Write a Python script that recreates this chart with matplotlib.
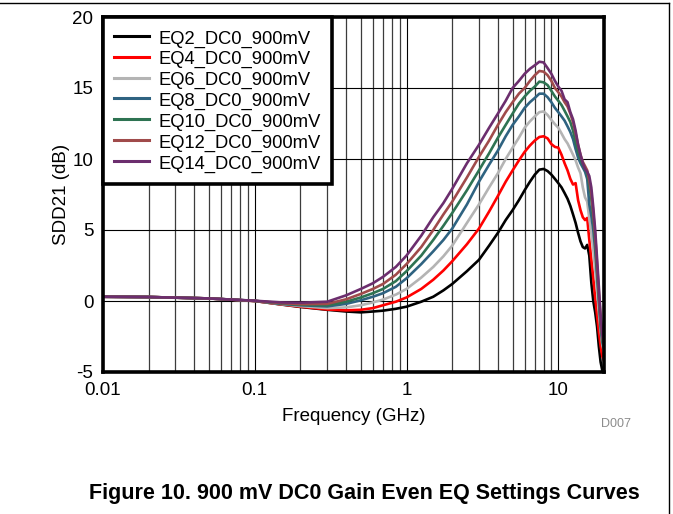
import matplotlib
matplotlib.use("Agg")
import matplotlib.pyplot as plt
from matplotlib.lines import Line2D
from matplotlib.ticker import FixedLocator, NullFormatter

freq_ghz = [0.01, 0.02, 0.05, 0.1, 0.15, 0.2,
            0.3, 0.4, 0.5, 0.6, 0.7, 0.85,
            1.0, 1.25, 1.5, 1.75, 2.0,
            2.5, 3.0, 3.5, 4.0, 4.5,
            5.0, 5.5, 6.0, 6.5, 7.0,
            7.5, 8.0, 8.5, 9.0, 9.5,
            10.0, 10.5, 11.0, 11.5, 12.0,
            12.5, 13.0, 13.5, 14.0, 14.5,
            15.0, 15.5, 16.0, 16.5, 17.0,
            17.5, 18.0, 18.5, 19.0, 19.5, 20.0]

eq2 = [0.30, 0.28, 0.18, 0.00, -0.25, -0.42,
       -0.62, -0.74, -0.80, -0.74, -0.68, -0.55,
       -0.40, -0.05, 0.30, 0.75, 1.20,
       2.10, 2.90, 3.90, 4.80, 5.70,
       6.40, 7.10, 7.80, 8.40, 8.90,
       9.25, 9.30, 9.15, 8.90, 8.60,
       8.30, 8.00, 7.60, 7.20, 6.70,
       6.10, 5.50, 4.80, 4.20, 3.80,
       3.70, 3.95, 3.20, 1.30, 0.00,
       -0.80, -1.80, -3.20, -4.30, -4.90, -5.00]

eq4 = [0.30, 0.28, 0.18, 0.00, -0.24, -0.40,
       -0.60, -0.66, -0.62, -0.50, -0.30, -0.05,
       0.25, 0.85, 1.50, 2.15, 2.80,
       4.00, 5.10, 6.30, 7.40, 8.40,
       9.20, 9.90, 10.50, 10.95, 11.30,
       11.55, 11.60, 11.45, 11.05, 10.85,
       10.80, 10.30, 9.70, 9.20, 8.60,
       8.20, 8.30, 7.10, 6.40, 5.90,
       5.70, 5.85, 4.30, 2.90, 1.60,
       0.20, -1.00, -2.20, -3.20, -3.90, -4.20]

eq6 = [0.30, 0.28, 0.18, 0.01, -0.22, -0.36,
       -0.50, -0.45, -0.30, -0.10, 0.10, 0.45,
       0.85, 1.65, 2.40, 3.15, 3.90,
       5.50, 6.80, 8.00, 9.00, 10.00,
       10.80, 11.50, 12.20, 12.65, 13.00,
       13.30, 13.35, 13.10, 12.75, 12.45,
       12.20, 11.80, 11.40, 11.10, 10.70,
       10.30, 9.90, 9.40, 9.00, 8.00,
       7.30, 7.00, 5.80, 4.80, 3.60,
       2.20, 0.80, -0.80, -2.10, -3.10, -3.60]

eq8 = [0.30, 0.28, 0.18, 0.01, -0.20, -0.30,
       -0.38, -0.20, 0.05, 0.30, 0.55, 1.00,
       1.60, 2.60, 3.50, 4.30, 5.10,
       6.80, 8.40, 9.60, 10.60, 11.60,
       12.40, 13.00, 13.60, 14.00, 14.30,
       14.60, 14.60, 14.35, 14.00, 13.60,
       13.30, 13.00, 12.70, 12.30, 11.90,
       11.40, 10.70, 10.10, 9.70, 9.40,
       9.10, 8.60, 6.80, 6.00, 5.00,
       3.60, 1.80, 0.00, -1.80, -2.90, -3.40]

eq10 = [0.30, 0.28, 0.18, 0.01, -0.18, -0.26,
        -0.30, -0.05, 0.25, 0.55, 0.85, 1.40,
        2.10, 3.20, 4.30, 5.30, 6.20,
        7.80, 9.20, 10.40, 11.50, 12.40,
        13.20, 13.90, 14.40, 14.80, 15.10,
        15.45, 15.40, 15.20, 14.80, 14.40,
        14.10, 13.80, 13.40, 13.00, 12.60,
        12.00, 11.20, 10.50, 10.00, 9.60,
        9.30, 9.00, 8.20, 7.20, 5.80,
        4.20, 2.20, 0.30, -1.60, -2.70, -3.30]

eq12 = [0.30, 0.28, 0.18, 0.01, -0.15, -0.22,
        -0.20, 0.12, 0.50, 0.85, 1.20, 1.85,
        2.60, 3.80, 5.00, 6.10, 7.00,
        8.70, 10.15, 11.30, 12.40, 13.30,
        14.00, 14.60, 15.00, 15.50, 15.90,
        16.20, 16.15, 15.90, 15.50, 15.00,
        14.70, 14.40, 14.00, 13.70, 13.20,
        12.60, 11.80, 11.00, 10.30, 9.80,
        9.50, 9.20, 8.50, 7.60, 6.20,
        4.60, 2.60, 0.60, -1.30, -2.50, -3.10]

eq14 = [0.30, 0.28, 0.18, 0.02, -0.10, -0.12,
        -0.05, 0.40, 0.85, 1.25, 1.70, 2.40,
        3.20, 4.60, 5.90, 6.90, 7.90,
        9.70, 11.00, 12.20, 13.20, 14.10,
        15.00, 15.50, 16.00, 16.35, 16.60,
        16.85, 16.80, 16.40, 16.00, 15.50,
        15.10, 14.80, 14.20, 14.00, 13.30,
        12.80, 12.00, 11.00, 10.30, 9.70,
        9.30, 9.10, 8.80, 8.00, 6.60,
        5.00, 3.00, 1.00, -1.00, -2.40, -2.90]

series_names = ["EQ2_DC0_900mV", "EQ4_DC0_900mV", "EQ6_DC0_900mV", "EQ8_DC0_900mV",
                "EQ10_DC0_900mV", "EQ12_DC0_900mV", "EQ14_DC0_900mV"]
series_values = [eq2, eq4, eq6, eq8, eq10, eq12, eq14]
series_colors = ["#000000", "#FF0000", "#B4B4B4", "#2F6381", "#2E7352", "#A04B4B", "#6C2E6E"]

x_ticks = [0.01, 0.1, 1, 10]
x_tick_labels = ["0.01", "0.1", "1", "10"]
y_ticks = [-5, 0, 5, 10, 15, 20]
y_tick_labels = ["-5", "0", "5", "10", "15", "20"]

plt.rcParams['font.family'] = ['Liberation Sans', 'DejaVu Sans']

fig = plt.figure(figsize=(6.73, 5.14), dpi=100)
ax = fig.add_axes([103/673, 1 - 372/514, (604 - 103)/673, (372 - 17)/514])

for name, vals, col in zip(series_names, series_values, series_colors):
    ax.plot(freq_ghz, vals, color=col, lw=1.9, label=name, solid_joinstyle='round')

ax.set_xscale('log')
ax.set_xlim(0.01, 20)
ax.set_ylim(-5, 20)
ax.xaxis.set_major_locator(FixedLocator(x_ticks))
ax.set_xticklabels(x_tick_labels)
minor = [m * d for d in [0.01, 0.1, 1, 10] for m in range(2, 10) if m * d < 20]
ax.xaxis.set_minor_locator(FixedLocator(minor))
ax.xaxis.set_minor_formatter(NullFormatter())
ax.set_yticks(y_ticks)
ax.set_yticklabels(y_tick_labels)

ax.grid(True, which='major', axis='both', color='#000000', lw=0.8)
ax.grid(True, which='minor', axis='x', color='#3c3c3c', lw=0.9)
ax.set_axisbelow(True)

ax.tick_params(axis='both', which='both', length=0, labelsize=13.5, pad=7)
for s in ax.spines.values():
    s.set_linewidth(2.6)
    s.set_color('black')

ax.set_xlabel("Frequency (GHz)", fontsize=13.5, labelpad=7)
ax.set_ylabel("SDD21 (dB)", fontsize=13.5, labelpad=2)

leg = ax.legend(loc='upper left', bbox_to_anchor=(0, 1), borderaxespad=0,
                fontsize=13.2, frameon=True, fancybox=False, handlelength=1.9,
                handleheight=1.1, handletextpad=0.5, labelspacing=0.09, borderpad=0.62)
leg.get_frame().set_edgecolor('black')
leg.get_frame().set_linewidth(2.6)
leg.get_frame().set_alpha(1)
for l in leg.get_lines():
    l.set_linewidth(2.2)

fig.text(616/673, 1 - 424/514, "D007", fontsize=9, color='#8c8c8c', ha='center', va='center')
fig.text(364/673, 1 - 493/514, "Figure 10. 900 mV DC0 Gain Even EQ Settings Curves",
         fontsize=15.5, fontweight='bold', ha='center', va='center',
         family=['Liberation Sans', 'DejaVu Sans'])

fig.add_artist(Line2D([0, 669/673], [1 - 3/514, 1 - 3/514], transform=fig.transFigure,
                      color='black', lw=1))
fig.add_artist(Line2D([669/673, 669/673], [1 - 3/514, 0], transform=fig.transFigure,
                      color='black', lw=1))

fig.savefig("out.png", dpi=100)
